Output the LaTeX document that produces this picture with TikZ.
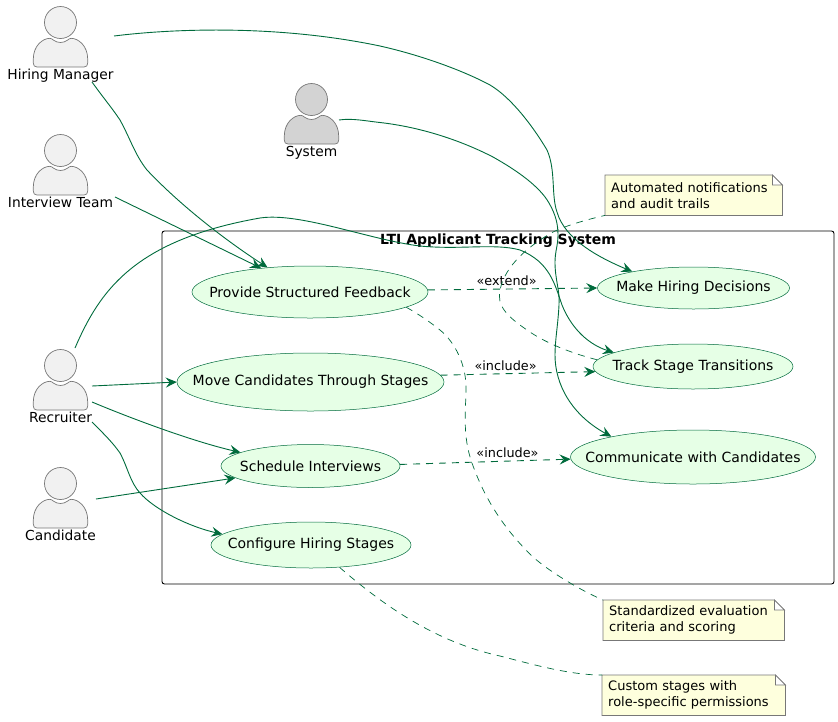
\documentclass[tikz,border=0pt]{standalone}
\usepackage{fontspec}
\setmainfont{DejaVu Sans}
\usetikzlibrary{shapes.geometric,arrows.meta,backgrounds}
\definecolor{lnk}{RGB}{0,107,60}
\definecolor{ucfill}{RGB}{230,255,230}
\definecolor{notefill}{RGB}{254,255,221}
\definecolor{actfill}{RGB}{241,241,241}
\definecolor{sysfill}{RGB}{211,211,211}
\definecolor{edgegrey}{RGB}{119,119,119}
\tikzset{
  x=1pt,y=-1pt,
  ucase/.style={ellipse,draw=lnk,line width=0.5pt,fill=ucfill,inner sep=0pt,font=\fontsize{14}{16}\selectfont},
  assoc/.style={draw=lnk,line width=0.9pt,-{Stealth[length=11pt,width=10pt,inset=4pt]}},
  depend/.style={assoc,dash pattern=on 7pt off 6pt},
  notelink/.style={draw=lnk,line width=0.7pt,dash pattern=on 7pt off 6pt},
  lbl/.style={font=\fontsize{14}{16}\selectfont,inner sep=0pt},
  deplbl/.style={lbl,font=\fontsize{12.8}{16}\selectfont},
  actorlbl/.style={lbl,font=\fontsize{13.8}{16}\selectfont,anchor=base},
  notebox/.style={inner xsep=6pt,inner ysep=0pt,text width=165pt,align=left,minimum height=40pt,font=\fontsize{13}{16}\selectfont},
  pics/actor/.style={code={
    \draw[draw=edgegrey,line width=0.7pt,fill=#1] (0,-15.5) circle[radius=16];
    \draw[draw=edgegrey,line width=0.7pt,fill=#1]
      (-23.5,29) -- (23.5,29) .. controls (26,29) and (27.2,27.5) .. (27.2,25)
      -- (27.2,21) .. controls (27.2,8) and (18,0.3) .. (10.5,0.3)
      .. controls (8,0.3) and (6,4.5) .. (0,4.5)
      .. controls (-6,4.5) and (-8,0.3) .. (-10.5,0.3)
      .. controls (-18,0.3) and (-27.2,8) .. (-27.2,21)
      -- (-27.2,25) .. controls (-27.2,27.5) and (-26,29) .. (-23.5,29) -- cycle;
  }}
}
\newcommand{\ucnode}[6]{\node[ucase,minimum width=#4pt,minimum height=#5pt] (#1) at (#2,#3) {\makebox[0pt][c]{#6}};}
\newcommand{\notecard}[1]{%
  \begin{pgfonlayer}{background}
    \draw[draw=edgegrey,line width=0.7pt,fill=notefill] (#1.north west) -- ([xshift=-10pt]#1.north east) -- ([yshift=-10pt]#1.north east) -- (#1.south east) -- (#1.south west) -- cycle;
    \draw[draw=edgegrey,line width=0.7pt,fill=white] ([xshift=-10pt]#1.north east) -- ([xshift=-10pt,yshift=-10pt]#1.north east) -- ([yshift=-10pt]#1.north east) -- cycle;
  \end{pgfonlayer}}
\begin{document}
\begin{tikzpicture}
\useasboundingbox (0,0) rectangle (838,721);
% system boundary
\draw[black,line width=0.9pt,rounded corners=2.5pt] (162,231) rectangle (834,584);
\node[lbl,font=\fontsize{14}{16}\selectfont\bfseries] (title) at (498,241) {LTI Applicant Tracking System};
% actors
\pic at (60.5,38) {actor=actfill};
\node[actorlbl] (hm) at (60.5,79) {Hiring Manager};
\pic at (60.5,166) {actor=actfill};
\node[actorlbl] (it) at (60.5,207) {Interview Team};
\pic at (311.5,115) {actor=sysfill};
\node[actorlbl] (sys) at (311.5,156) {System};
\pic at (60.5,381) {actor=actfill};
\node[actorlbl] (rec) at (60.5,422) {Recruiter};
\pic at (60.5,499) {actor=actfill};
\node[actorlbl] (cand) at (60.5,540) {Candidate};
% use cases
\ucnode{pf}{310}{292}{236}{52}{Provide Structured Feedback}
\ucnode{mc}{310.5}{382}{267}{58}{Move Candidates Through Stages}
\ucnode{si}{310.5}{466}{179}{43}{Schedule Interviews}
\ucnode{ch}{311}{545}{200}{46}{Configure Hiring Stages}
\ucnode{md}{693.5}{288}{192}{42}{Make Hiring Decisions}
\ucnode{ts}{693}{366.5}{200}{45}{Track Stage Transitions}
\ucnode{cc}{693}{457}{245}{54}{Communicate with Candidates}
% notes
\node[notebox,anchor=north west] (nA) at (605,175) {Automated notifications\\and audit trails};
\notecard{nA}
\node[notebox,anchor=north west,text width=169pt] (nS) at (603,600) {Standardized evaluation\\criteria and scoring};
\notecard{nS}
\node[notebox,anchor=north west,text width=171pt] (nC) at (602,675) {Custom stages with\\role-specific permissions};
\notecard{nC}
% connector start points beside the actors
\coordinate (hmE) at (114,36);
\coordinate (hmS) at (92,82);
\coordinate (itE) at (115,197);
\coordinate (sysE) at (339,120);
\coordinate (recN) at (75,348);
\coordinate (recE) at (92,386);
\coordinate (recF) at (92,402);
\coordinate (recS) at (92,422);
\coordinate (candE) at (96,499);
% associations
\draw[assoc] (hmE) .. controls (170,29) and (275,24) .. (380,46)
  .. controls (420,55) and (462,70) .. (490,85)
  .. controls (512,98) and (534,128) .. (547,150)
  .. controls (556,170) and (551,195) .. (557,212)
  .. controls (565,240) and (600,258) .. (md.165);
\draw[assoc] (hmS) .. controls (105,100) and (112,108) .. (120,120)
  .. controls (130,138) and (135,155) .. (147,170)
  .. controls (180,205) and (225,240) .. (pf.150);
\draw[assoc] (itE) -- (pf.154);
\draw[assoc] (sysE) .. controls (352,118) and (366,121) .. (380,122.5)
  .. controls (420,127) and (460,140) .. (493,157)
  .. controls (518,171) and (540,187) .. (549,203)
  .. controls (556,215) and (558,225) .. (558,235)
  .. controls (558,245) and (555,252) .. (555,262)
  .. controls (555,280) and (560,290) .. (559,305)
  .. controls (558,325) and (555,340) .. (555,355)
  .. controls (555,385) and (572,415) .. (cc.166);
\draw[assoc] (recN) .. controls (100,290) and (135,240) .. (260,218)
  .. controls (300,212) and (370,240) .. (420,246)
  .. controls (460,250) and (495,243) .. (520,250)
  .. controls (550,262) and (555,285) .. (562,305)
  .. controls (572,330) and (590,345) .. (ts.170);
\draw[assoc] (recE) -- (mc.west);
\draw[assoc] (recF) .. controls (135,420) and (195,442) .. (si.169);
\draw[assoc] (recS) .. controls (105,435) and (113,443) .. (120,453)
  .. controls (128,468) and (130,482) .. (140,493)
  .. controls (155,510) and (190,527) .. (ch.173);
\draw[assoc] (candE) -- (si.189);
% dependencies
\draw[depend] (pf.1) -- (md.west) node[pos=.465,deplbl,yshift=8pt] (ext) {«extend»};
\draw[depend] (mc.3) -- (ts.183) node[pos=.42,deplbl,yshift=8pt] (inc1) {«include»};
\draw[depend] (si.1) -- (cc.181) node[pos=.63,deplbl,yshift=8pt] (inc2) {«include»};
% note links
\draw[notelink] (ts.176) .. controls (578,355) and (548,345) .. (527,330)
  .. controls (505,315) and (497,305) .. (500,290)
  .. controls (505,265) and (530,245) .. (553,232)
  .. controls (565,226) and (585,220) .. (nA.south west);
\draw[notelink] (pf.-9) .. controls (420,315) and (430,322) .. (440,330)
  .. controls (455,342) and (466,365) .. (466,387)
  .. controls (466,410) and (462,435) .. (472,463)
  .. controls (485,500) and (505,530) .. (533,557)
  .. controls (550,572) and (580,590) .. (nS.north west);
\draw[notelink] (ch.-38) .. controls (400,620) and (450,645) .. (500,656)
  .. controls (535,665) and (570,675) .. (nC.north west);
\end{tikzpicture}
\end{document}
